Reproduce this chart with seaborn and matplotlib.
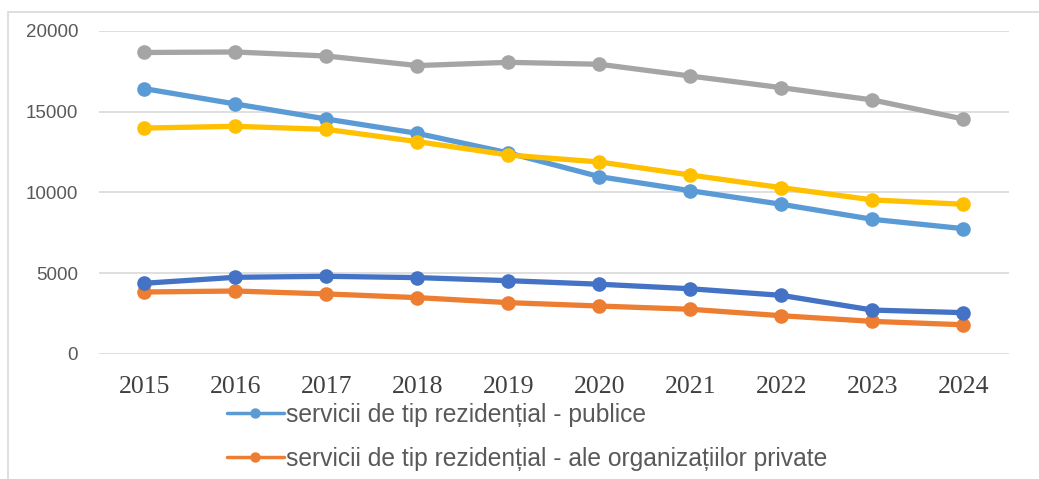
import numpy as np
import pandas as pd
import matplotlib
matplotlib.use("Agg")
import matplotlib.pyplot as plt
import seaborn as sns
from matplotlib.patches import Rectangle
from matplotlib.lines import Line2D

years = [2015, 2016, 2017, 2018, 2019, 2020, 2021, 2022, 2023, 2024]

rez_publice = [16430, 15480, 14550, 13660, 12450, 10980, 10110, 9270, 8340, 7760]
rez_private = [3840, 3900, 3720, 3490, 3180, 2970, 2770, 2370, 2020, 1810]
total_gray = [18670, 18700, 18450, 17860, 18060, 17940, 17210, 16490, 15730, 14550]
total_yellow = [13990, 14100, 13910, 13150, 12320, 11890, 11080, 10300, 9540, 9270]
total_darkblue = [4380, 4750, 4810, 4730, 4540, 4320, 4040, 3630, 2720, 2560]

legend_labels = [
    "servicii de tip rezidențial - publice",
    "servicii de tip rezidențial - ale organizațiilor private",
]

series = [
    (rez_publice, "#5B9BD5"),
    (rez_private, "#ED7D31"),
    (total_gray, "#A5A5A5"),
    (total_yellow, "#FFC000"),
    (total_darkblue, "#4472C4"),
]

sns.set_style("white")

fig = plt.figure(figsize=(10.39, 4.79), dpi=100)
ax = fig.add_axes([99 / 1039, 1 - 354 / 479, 910 / 1039, 323 / 479])

for vals, col in series:
    df = pd.DataFrame({"year": years, "value": vals})
    sns.lineplot(data=df, x="year", y="value", ax=ax, color=col, linewidth=3.8,
                 marker="o", markersize=10.5, markeredgewidth=0, clip_on=False)

ax.set_xlim(2014.5, 2024.5)
ax.set_ylim(0, 20000)
ax.set_yticks([0, 5000, 10000, 15000, 20000])
ax.set_xticks(years)
ax.set_xlabel("")
ax.set_ylabel("")
ax.grid(axis="y", color="#d9d9d9", linewidth=1.2)
ax.set_axisbelow(True)
for s in ax.spines.values():
    s.set_visible(False)
ax.tick_params(axis="both", length=0)
ax.tick_params(axis="y", pad=15, labelcolor="#595959", labelsize=13.5)
ax.tick_params(axis="x", pad=16, labelcolor="#404040", labelsize=18.5)
for t in ax.get_yticklabels():
    t.set_family(["Liberation Sans", "DejaVu Sans"])
for t in ax.get_xticklabels():
    t.set_family(["Liberation Serif", "DejaVu Serif"])

# legend: only the first two entries are visible in the (cropped) original
handles = [Line2D([], [], color=series[i][1], linewidth=2.5, marker="o",
                  markersize=7.5, markeredgewidth=0) for i in range(2)]
fig.legend(handles, legend_labels, loc="upper left",
           bbox_to_anchor=(227 / 1039, 1 - 403 / 479), frameon=False,
           borderpad=0, borderaxespad=0, handlelength=2.3, handletextpad=0.12,
           labelspacing=0.8, labelcolor="#595959",
           prop={"family": ["Liberation Sans", "DejaVu Sans"], "size": 17.7})

fig.add_artist(Rectangle((8 / 1039, -0.1), 1.2, 1 - 12 / 479 + 0.1,
                         transform=fig.transFigure, fill=False,
                         edgecolor="#d9d9d9", linewidth=1.2))

fig.savefig("out.png", dpi=100)
